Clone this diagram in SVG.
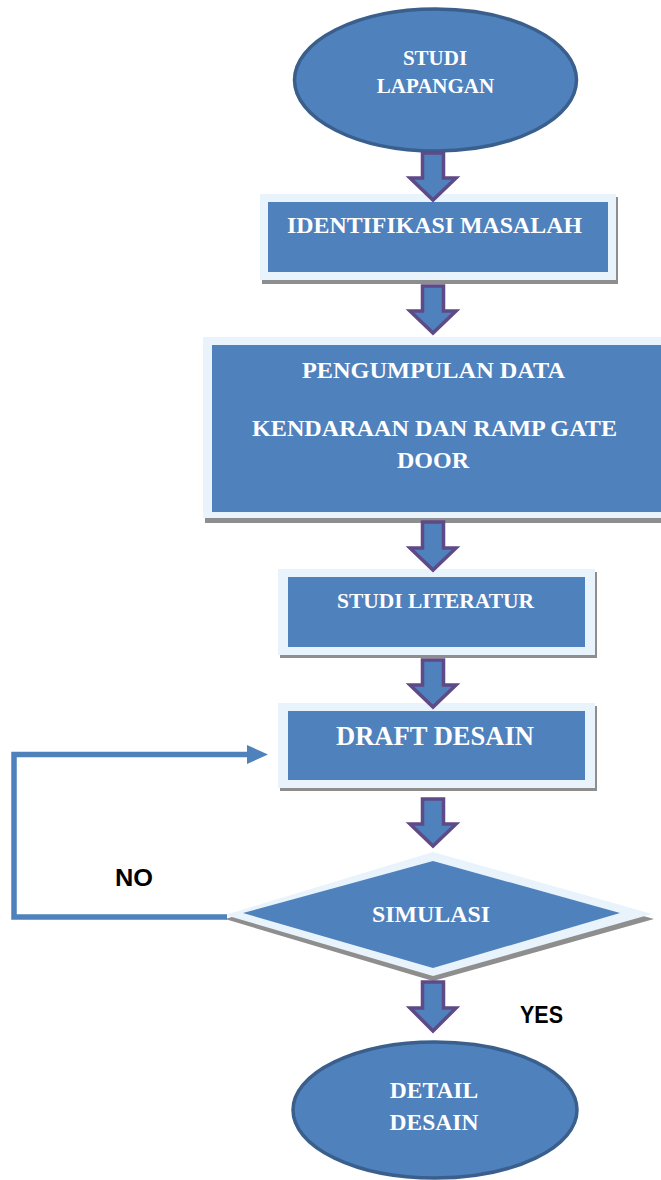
<svg xmlns="http://www.w3.org/2000/svg" width="661" height="1180" viewBox="0 0 661 1180">
<style>
.ell{fill:#4F81BD;stroke:#3A5F8C;stroke-width:3.5}
.shadow{fill:#8E8E8E}
.frame{fill:#E8F3FB}
.blue{fill:#4F81BD}
.t{font-family:"Liberation Serif","Times New Roman",serif;font-weight:bold;fill:#FFFFFF;text-anchor:middle}
.lbl{font-family:"Liberation Sans",Arial,sans-serif;font-weight:bold;fill:#000000}
.blk{fill:#4F81BD;stroke:#5E4A86;stroke-width:3.5;stroke-linejoin:miter}
.loop{fill:none;stroke:#4F81BD;stroke-width:5.5}
</style>
<rect width="661" height="1180" fill="#FFFFFF"/>
<g id="studi-lapangan">
<ellipse class="ell" cx="435.5" cy="80" rx="141" ry="71"/>
<text class="t" x="435" y="65" font-size="21">STUDI</text>
<text class="t" x="435.5" y="93" font-size="21">LAPANGAN</text>
</g>
<g id="identifikasi-masalah">
<rect class="shadow" x="262" y="197" width="356" height="87"/>
<rect class="frame" x="260" y="194" width="356" height="86"/>
<rect class="blue" x="268" y="202" width="340" height="70"/>
<text class="t" x="434.5" y="233" font-size="24" textLength="295" lengthAdjust="spacingAndGlyphs">IDENTIFIKASI MASALAH</text>
</g>
<g id="pengumpulan-data">
<rect class="shadow" x="205" y="340" width="458" height="183"/>
<rect class="frame" x="203" y="337" width="458" height="181"/>
<rect class="blue" x="212" y="345" width="449" height="167"/>
<text class="t" x="433.5" y="378" font-size="24" textLength="263" lengthAdjust="spacingAndGlyphs">PENGUMPULAN DATA</text>
<text class="t" x="434.5" y="436" font-size="24" textLength="365" lengthAdjust="spacingAndGlyphs">KENDARAAN DAN RAMP GATE</text>
<text class="t" x="433" y="468" font-size="24">DOOR</text>
</g>
<g id="studi-literatur">
<rect class="shadow" x="280" y="572" width="317" height="86"/>
<rect class="frame" x="278" y="569" width="317" height="86"/>
<rect class="blue" x="288" y="577" width="297" height="70"/>
<text class="t" x="435.5" y="608" font-size="21" textLength="197" lengthAdjust="spacingAndGlyphs">STUDI LITERATUR</text>
</g>
<g id="draft-desain">
<rect class="shadow" x="280" y="706" width="317" height="85"/>
<rect class="frame" x="278" y="703" width="317" height="85"/>
<rect class="blue" x="288" y="711" width="297" height="69"/>
<text class="t" x="435" y="745" font-size="26.5" textLength="198" lengthAdjust="spacingAndGlyphs">DRAFT DESAIN</text>
</g>
<g id="simulasi">
<polygon class="shadow" points="225,919 433,857 654,919 433,981"/>
<polygon class="frame" points="225,915 433,852 652,914 433,976"/>
<polygon class="blue" points="243,913 433,861 620,913 433,968"/>
<text class="t" x="431" y="922" font-size="24" textLength="118" lengthAdjust="spacingAndGlyphs">SIMULASI</text>
</g>
<g id="detail-desain">
<ellipse class="ell" cx="435" cy="1110" rx="142" ry="68"/>
<text class="t" x="434" y="1098" font-size="23.5">DETAIL</text>
<text class="t" x="434" y="1130" font-size="23.5">DESAIN</text>
</g>
<g id="connectors">
<path class="blk" d="M422.5,153 L443.5,153 L443.5,178 L456,178 L433,200 L410,178 L422.5,178 Z"/>
<path class="blk" d="M422.5,286 L443.5,286 L443.5,311 L456,311 L433,333 L410,311 L422.5,311 Z"/>
<path class="blk" d="M422.5,522 L443.5,522 L443.5,548 L456,548 L433,570 L410,548 L422.5,548 Z"/>
<path class="blk" d="M422.5,660 L443.5,660 L443.5,685 L456,685 L433,707 L410,685 L422.5,685 Z"/>
<path class="blk" d="M422.5,799 L443.5,799 L443.5,824 L456,824 L433,846 L410,824 L422.5,824 Z"/>
<path class="blk" d="M422.5,982 L443.5,982 L443.5,1008 L456,1008 L433,1031 L410,1008 L422.5,1008 Z"/>
<polyline class="loop" points="227,917 14,917 14,754.5 249,754.5"/>
<polygon fill="#4F81BD" points="247,745 268,754.5 247,764"/>
</g>
<text class="lbl" x="115" y="886" font-size="24" textLength="38" lengthAdjust="spacingAndGlyphs">NO</text>
<text class="lbl" x="520" y="1023" font-size="24" textLength="43" lengthAdjust="spacingAndGlyphs">YES</text>
</svg>
